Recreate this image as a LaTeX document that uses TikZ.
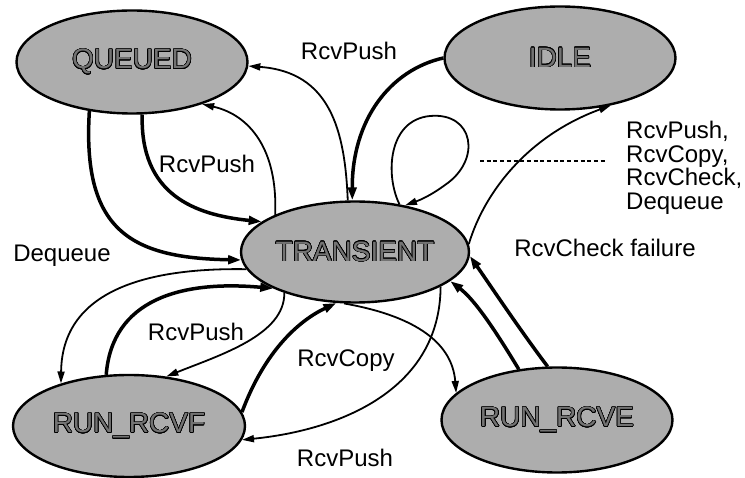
\documentclass[tikz,border=0pt]{standalone}
\usepackage{fontspec}
\setmainfont{Liberation Sans}
\usepackage{contour}
\contourlength{0.6pt}
\contournumber{24}
\usetikzlibrary{shapes.geometric,arrows.meta}

% outlined lettering used for the state names
\newcommand{\statename}[1]{\contour{black}{#1}}

\begin{document}
\begin{tikzpicture}[x=1pt,y=-1pt,
  state/.style={ellipse, draw, line width=2.4pt, fill=black!32, text=black!55,
    inner sep=0pt, minimum width=231pt, minimum height=103pt,
    font=\fontsize{28}{30}\selectfont},
  thinedge/.style={line width=1.8pt, -{Triangle[length=12pt,width=7pt]}},
  thickedge/.style={line width=3.5pt, -{Triangle[length=13pt,width=8.5pt]}},
  lbl/.style={inner sep=0pt, font=\fontsize{24}{23.7}\selectfont},
  dashline/.style={line width=1.6pt, dash pattern=on 4pt off 2.7pt}]

\useasboundingbox (0,0) rectangle (745,478);

% states
\node[state] (q) at (132,62) {\statename{QUEUED}};
\node[state] (i) at (560,58) {\statename{IDLE}};
\node[state, minimum width=228pt, minimum height=101pt] (t) at (355,252) {\statename{TRANSIENT}};
\node[state, minimum width=232pt, minimum height=102pt] (f) at (129,426) {\statename{RUN\_RCVF}};
\node[state, minimum height=105pt] (e) at (557,420) {\statename{RUN\_RCVE}};

% transitions around QUEUED
\draw[thinedge]  (t.98)   .. controls (345,130) and (330,72)  .. (q.-2);
\draw[thickedge] (q.-131) .. controls (82,230)  and (130,258) .. (t.184);
\draw[thickedge] (q.-79)  .. controls (140,195) and (195,215) .. (t.162);
\draw[thinedge]  (t.155)  .. controls (278,150) and (250,115) .. (q.-31);

% transitions around IDLE
\draw[thickedge] (i.west) .. controls (390,70)  and (352,120) .. (t.93);
\draw[thinedge]  (t.4)    .. controls (485,190) and (530,135) .. (i.-43);

% self loop on TRANSIENT
\draw[thinedge]  (t.47) .. controls (385,175) and (388,120) .. (430,116)
                        .. controls (474,112) and (482,160) .. (445,185)
                        .. controls (430,196) and (420,200) .. (t.43);

% transitions around RUN_RCVF
\draw[thinedge]  (t.189)  .. controls (170,268) and (62,280)  .. (f.148);
\draw[thickedge] (f.114)  .. controls (112,300) and (180,280) .. (t.204);
\draw[thinedge]  (t.210)  .. controls (285,335) and (220,355) .. (f.53);
\draw[thickedge] (f.7)    .. controls (265,350) and (300,320) .. (t.250);
\draw[thinedge]  (t.-22)  .. controls (440,390) and (340,430) .. (f.-7);

% transitions around RUN_RCVE
\draw[thinedge]  (t.258)  .. controls (410,315) and (452,340) .. (e.165);
\draw[thickedge] (e.127)  .. controls (495,330) and (475,300) .. (t.-17);
\draw[thickedge] (e.100)  .. controls (520,330) and (490,285) .. (t.-2);

% labels
\node[lbl] (l1) at (349,51)  {RcvPush};
\node[lbl] (l2) at (207,164) {RcvPush};
\node[lbl] (l3) at (62,256)  {Dequeue};
\node[lbl] (l4) at (196,332) {RcvPush};
\node[lbl] (l5) at (346,361) {RcvCopy};
\node[lbl] (l6) at (345,458) {RcvPush};
\node[lbl] (l7) at (605,248) {RcvCheck failure};
\node[lbl, anchor=north west, align=left] (l8) at (626,121)
  {RcvPush,\\RcvCopy,\\RcvCheck,\\Dequeue};

% dashed pointer from the self loop to its label list
\coordinate (dl) at (480,161);
\coordinate (dr) at (607,161);
\draw[dashline] (dl) -- (dr);

\end{tikzpicture}
\end{document}
